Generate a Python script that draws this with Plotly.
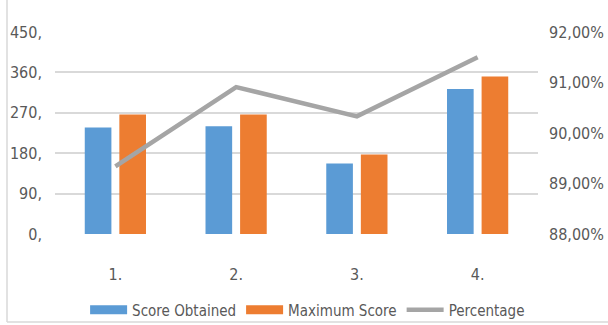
import plotly.graph_objects as go

categories = ["1.", "2.", "3.", "4."]
score_obtained = [237, 240, 157, 323]
maximum_score = [266, 266, 177, 351]
percentage = [89.34, 90.91, 90.33, 91.50]

left_tickvals = [0, 90, 180, 270, 360, 450]
left_ticktext = ["0,", "90,", "180,", "270,", "360,", "450,"]
right_tickvals = [88, 89, 90, 91, 92]
right_ticktext = ["88,00%", "89,00%", "90,00%", "91,00%", "92,00%"]

BLUE = "#5b9bd5"
ORANGE = "#ed7d31"
GRAY = "#a5a5a5"
TEXT = "#595959"
FONT = "DejaVu Sans Condensed, Liberation Sans Narrow, sans-serif"
FS = 16

fig = go.Figure()
fig.add_trace(go.Bar(x=categories, y=score_obtained, name="Score Obtained",
                     marker=dict(color=BLUE, line=dict(width=0)), showlegend=False))
fig.add_trace(go.Bar(x=categories, y=maximum_score, name="Maximum Score",
                     marker=dict(color=ORANGE, line=dict(width=0)), showlegend=False))
fig.add_trace(go.Scatter(x=categories, y=percentage, name="Percentage", yaxis="y2",
                         mode="lines", line=dict(color=GRAY, width=4.5), showlegend=False))

# legend-only entries (wide swatches like the reference)
for nm, col, w in [("Score Obtained", BLUE, 9), ("Maximum Score", ORANGE, 9), ("Percentage", GRAY, 4.5)]:
    fig.add_trace(go.Scatter(x=[None], y=[None], name=nm, mode="lines",
                             line=dict(color=col, width=w), showlegend=True))

fig.update_layout(
    template="none",
    width=608, height=325,
    margin=dict(l=55, r=70, t=32, b=91, autoexpand=False),
    paper_bgcolor="white", plot_bgcolor="white",
    barmode="group", bargap=0.427, bargroupgap=0.23,
    font=dict(family=FONT, size=FS, color=TEXT),
    xaxis=dict(type="category", showgrid=False, showline=False, zeroline=False, ticks="",
               automargin=False, ticklabelstandoff=29, tickfont=dict(size=FS, color=TEXT)),
    yaxis=dict(range=[0, 450], tickvals=left_tickvals, ticktext=left_ticktext, automargin=False,
               showgrid=True, gridcolor="#d9d9d9", gridwidth=2, zeroline=False,
               showline=False, ticks="", ticklabelstandoff=12, tickfont=dict(size=FS, color=TEXT)),
    yaxis2=dict(range=[88, 92], tickvals=right_tickvals, ticktext=right_ticktext, automargin=False,
                overlaying="y", side="right", showgrid=False, zeroline=False,
                showline=False, ticks="", ticklabelstandoff=10, tickfont=dict(size=FS, color=TEXT)),
    legend=dict(orientation="h", x=0.523, xanchor="center", y=-0.376, yanchor="middle",
                font=dict(size=15, color=TEXT), itemwidth=37, tracegroupgap=0,
                bgcolor="rgba(0,0,0,0)", borderwidth=0),
    shapes=[
        dict(type="line", xref="paper", yref="paper", x0=-48/483, x1=-48/483, y0=1.16, y1=-0.436,
             line=dict(color="#d9d9d9", width=1.5)),
        dict(type="line", xref="paper", yref="paper", x0=-48/483, x1=553/483, y0=-0.436, y1=-0.436,
             line=dict(color="#d9d9d9", width=1.5)),
    ],
)

fig.write_html("out.html")
